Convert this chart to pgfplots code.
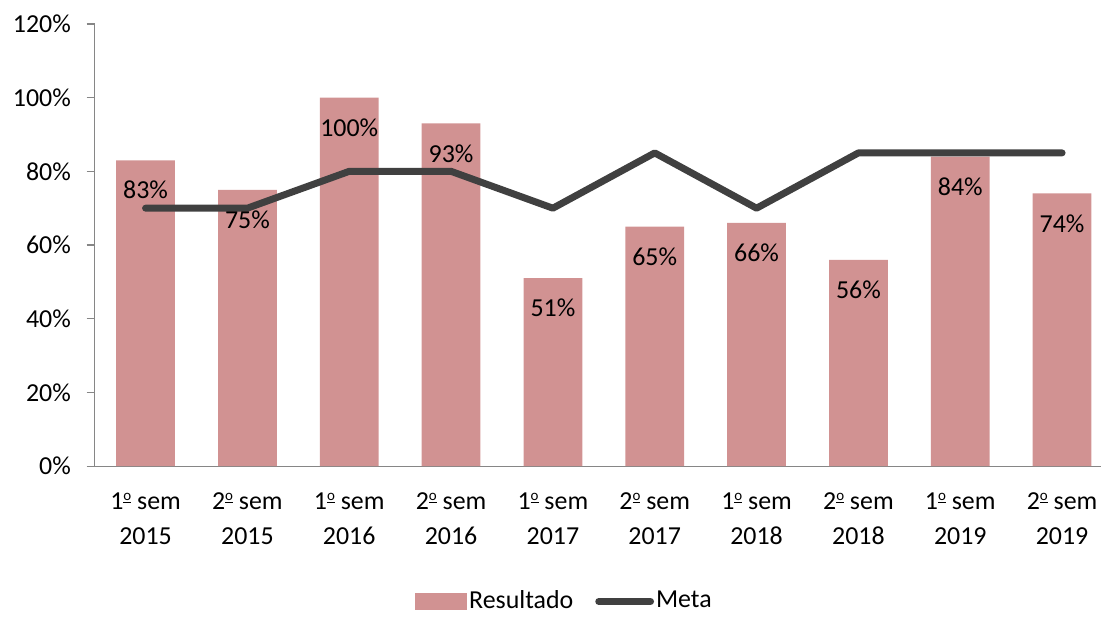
\documentclass[border=0pt]{standalone}
\usepackage{fontspec}
\setmainfont{Carlito}
\usepackage{pgfplots}
\pgfplotsset{compat=1.18}
\definecolor{barc}{HTML}{D19292}
\definecolor{linec}{HTML}{404040}
\definecolor{axc}{HTML}{868686}
\newcommand{\ordm}{\raisebox{0.36em}{\underline{\fontsize{15}{15}\selectfont o}}}
\begin{document}
\fontsize{26}{35}\selectfont
\begin{tikzpicture}
\begin{axis}[
  scale only axis,
  width=1010pt, height=444pt,
  xmin=-0.5, xmax=9.38,
  ymin=0, ymax=120,
  ytick={0,20,40,60,80,100,120},
  yticklabel={\pgfmathprintnumber{\tick}\%},
  /pgf/number format/assume math mode=true,
  xtick={0,...,9},
  xticklabels={1\ordm{} sem\\2015,2\ordm{} sem\\2015,1\ordm{} sem\\2016,2\ordm{} sem\\2016,1\ordm{} sem\\2017,2\ordm{} sem\\2017,1\ordm{} sem\\2018,2\ordm{} sem\\2018,1\ordm{} sem\\2019,2\ordm{} sem\\2019},
  xticklabel style={align=center, font=\fontsize{26}{35}\selectfont, yshift=-10pt},
  yticklabel style={font=\fontsize{26}{30}\selectfont, xshift=-7pt},
  x tick style={draw=none},
  y tick style={draw=axc, line width=1.2pt},
  tick align=outside,
  major tick length=8pt,
  axis x line*=bottom,
  axis y line*=left,
  axis line style={draw=axc, line width=1.2pt, -},
  legend style={at={(0.467,-0.306)}, anchor=center, draw=none, legend columns=2,
    font=\fontsize{26}{30}\selectfont, /tikz/every even column/.append style={column sep=20pt}},
  clip=false,
]
\addplot[ybar, bar width=59pt, fill=barc, draw=none,
  nodes near coords={\pgfmathprintnumber{\pgfplotspointmeta}\%},
  every node near coord/.append style={anchor=center, yshift=-30pt, font=\fontsize{26}{30}\selectfont, text=black},
  legend image code/.code={\fill[barc] (0pt,-8.5pt) rectangle (52pt,8.5pt);}
] coordinates {(0,83) (1,75) (2,100) (3,93) (4,51) (5,65) (6,66) (7,56) (8,84) (9,74)};
\addlegendentry{Resultado}
\addplot[linec, line width=7pt, line cap=round, line join=round, mark=none,
  legend image code/.code={\draw[linec, line width=7pt, line cap=round] (0pt,0pt) -- (52pt,0pt);}
] coordinates {(0,70) (1,70) (2,80) (3,80) (4,70) (5,85) (6,70) (7,85) (8,85) (9,85)};
\addlegendentry{Meta}
\end{axis}
\path (-95pt,-147pt) rectangle (1011pt,468pt);
\end{tikzpicture}
\end{document}
